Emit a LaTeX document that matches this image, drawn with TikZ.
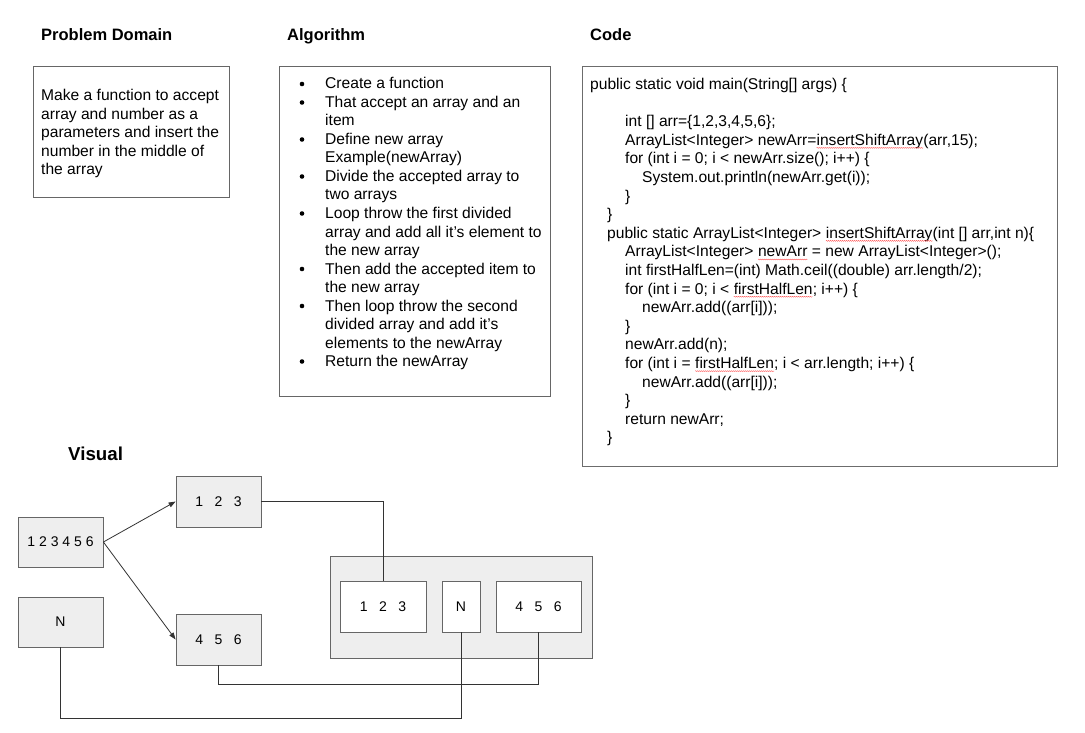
\documentclass[tikz,border=0pt]{standalone}
\usepackage{fontspec}
\setmainfont{Liberation Sans}
\usetikzlibrary{arrows.meta,decorations.pathmorphing}
\newcommand\spellwave[1]{\tikz[baseline=(sw.base)]{\node[inner sep=0pt,outer sep=0pt,anchor=base west] (sw) {#1};\draw[red!70!white, line width=0.35pt, decorate, decoration={snake,amplitude=0.45pt,segment length=2pt}] ([yshift=-2.6pt]sw.base west) -- ([yshift=-2.6pt]sw.base east);}}
\definecolor{boxline}{HTML}{666666}
\definecolor{boxfill}{HTML}{EEEEEE}
\definecolor{conn}{HTML}{333333}
\tikzset{
  title/.style={anchor=base west, inner sep=0pt, font=\fontsize{16.5pt}{19pt}\selectfont\bfseries},
  body/.style={anchor=base west, inner sep=0pt, font=\fontsize{15.6pt}{18.6pt}\selectfont},
  panel/.style={draw=boxline, line width=0.9pt, fill=white},
  vbox/.style={draw=boxline, line width=0.8pt, fill=boxfill, minimum width=85pt, minimum height=50pt, inner sep=0pt, font=\fontsize{14pt}{16pt}\selectfont},
  ibox/.style={draw=boxline, line width=0.8pt, fill=white, minimum height=51pt, inner sep=0pt, font=\fontsize{14pt}{16pt}\selectfont},
  conn/.style={draw=conn, line width=0.8pt},
  arr/.style={conn, -{Triangle[length=7pt,width=5pt]}},
  bul/.style={circle, fill=black, inner sep=0pt, minimum size=4.6pt}
}
\newcommand\dsp{\hspace{11.5pt}}
\begin{document}
\begin{tikzpicture}[x=1pt,y=-1pt]
\useasboundingbox (0,0) rectangle (1085,733);
\fill[white] (0,0) rectangle (1085,733);

% Titles
\node[title] (t1) at (41,41) {Problem Domain};
\node[title] (t2) at (287,41) {Algorithm};
\node[title] (t3) at (590,41) {Code};
\node[title, font=\fontsize{18.7pt}{21pt}\selectfont\bfseries] (t4) at (68,460) {Visual};

% Problem domain
\draw[panel] (33,66) rectangle (229,197);
\node[body] (p1) at (41,100.7) {Make a function to accept};
\node[body] (p2) at (41,119.2) {array and number as a};
\node[body] (p3) at (41,137.7) {parameters and insert the};
\node[body] (p4) at (41,156.2) {number in the middle of};
\node[body] (p5) at (41,174.7) {the array};

% Algorithm
\draw[panel] (279,66) rectangle (550,396);
\node[body] (a1) at (325,89.0) {Create a function};
\node[body] (a2) at (325,107.5) {That accept an array and an};
\node[body] (a3) at (325,126.0) {item};
\node[body] (a4) at (325,144.5) {Define new array};
\node[body] (a5) at (325,163.0) {Example(newArray)};
\node[body] (a6) at (325,181.5) {Divide the accepted array to};
\node[body] (a7) at (325,200.0) {two arrays};
\node[body] (a8) at (325,218.5) {Loop throw the first divided};
\node[body] (a9) at (325,237.0) {array and add all it’s element to};
\node[body] (a10) at (325,255.5) {the new array};
\node[body] (a11) at (325,274.0) {Then add the accepted item to};
\node[body] (a12) at (325,292.5) {the new array};
\node[body] (a13) at (325,311.0) {Then loop throw the second};
\node[body] (a14) at (325,329.5) {divided array and add it’s};
\node[body] (a15) at (325,348.0) {elements to the newArray};
\node[body] (a16) at (325,366.5) {Return the newArray};
\foreach \yy/\nm in {89.0/b1,107.5/b2,144.5/b3,181.5/b4,218.5/b5,274.0/b6,311.0/b7,366.5/b8}
  \node[bul] (\nm) at (302,\yy-5) {};

% Code
\draw[panel, draw=gray!85!black] (582,66) rectangle (1057,466);
\node[body] (c0) at (590,89.5) {public static void main(String[] args) \{};
\node[body] (c2) at (625,126.7) {int [] arr=\{1,2,3,4,5,6\};};
\node[body] (c3) at (625,145.3) {ArrayList<Integer> newArr=\spellwave{insertShiftArray}(arr,15);};
\node[body] (c4) at (625,163.9) {for (int i = 0; i < newArr.size(); i++) \{};
\node[body] (c5) at (642,182.5) {System.out.println(newArr.get(i));};
\node[body] (c6) at (625,201.1) {\}};
\node[body] (c7) at (607,219.7) {\}};
\node[body] (c8) at (607,238.3) {public static ArrayList<Integer> \spellwave{insertShiftArray}(int [] arr,int n)\{};
\node[body] (c9) at (625,256.9) {ArrayList<Integer> \spellwave{newArr} = new ArrayList<Integer>();};
\node[body] (c10) at (625,275.5) {int firstHalfLen=(int) Math.ceil((double) arr.length/2);};
\node[body] (c11) at (625,294.1) {for (int i = 0; i < \spellwave{firstHalfLen}; i++) \{};
\node[body] (c12) at (642,312.7) {newArr.add((arr[i]));};
\node[body] (c13) at (625,331.3) {\}};
\node[body] (c14) at (625,349.9) {newArr.add(n);};
\node[body] (c15) at (625,368.5) {for (int i = \spellwave{firstHalfLen}; i < arr.length; i++) \{};
\node[body] (c16) at (642,387.1) {newArr.add((arr[i]));};
\node[body] (c17) at (625,405.7) {\}};
\node[body] (c18) at (625,424.3) {return newArr;};
\node[body] (c19) at (607,442.9) {\}};

% Visual
\node[vbox] (all) at (60.5,542) {1 2 3 4 5 6};
\node[vbox] (nl) at (60.5,622) {N};
\node[vbox, minimum height=51pt] (first) at (218.5,501.5) {1\dsp2\dsp3};
\node[vbox, minimum height=51pt] (second) at (218.5,639.5) {4\dsp5\dsp6};
\node[draw=boxline, line width=0.8pt, fill=boxfill, minimum width=262pt, minimum height=102pt, inner sep=0pt] (cont) at (461,607) {};
\node[ibox, minimum width=86pt] (r1) at (383,606.5) {1\dsp2\dsp3};
\node[ibox, minimum width=38pt] (rn) at (461,606.5) {N};
\node[ibox, minimum width=85pt] (r2) at (538.5,606.5) {4\dsp5\dsp6};

\draw[arr] (all.east) -- (first.west);
\draw[arr] (all.east) -- (second.west);
\draw[conn] (first.east) -| (r1.north);
\draw[conn] (second.south) |- (538.5,684) -- (r2.south);
\draw[conn] (nl.south) |- (461,718) -- (rn.south);
\end{tikzpicture}
\end{document}
